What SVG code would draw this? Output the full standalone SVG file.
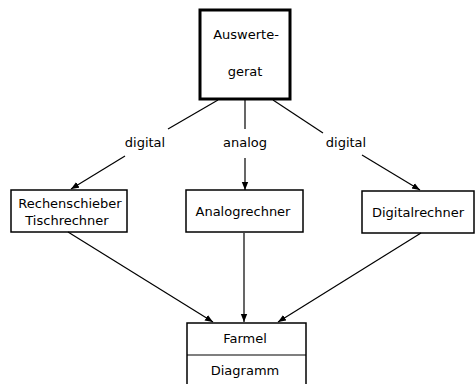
<svg xmlns="http://www.w3.org/2000/svg" width="476" height="384" viewBox="0 0 476 384">
<style>
.box{fill:#fff;stroke:#000;stroke-width:1.5}
.t{font-family:"DejaVu Sans",sans-serif;font-size:13px;fill:#000;text-anchor:middle}
.c{stroke:#000;stroke-width:1.2;fill:none}
</style>
<defs>
<marker id="ah" viewBox="0 0 10 10" refX="10" refY="5" markerWidth="8" markerHeight="8" markerUnits="userSpaceOnUse" orient="auto">
<path d="M0,1 L10,5 L0,9 Z" fill="#000"/>
</marker>
</defs>
<rect width="476" height="384" fill="#fff"/>
<g id="auswertegeraet">
<rect x="200" y="10" width="90" height="89" fill="#fff" stroke="#000" stroke-width="3"/>
<text class="t" x="246" y="39">Auswerte-</text>
<text class="t" x="245" y="76">gerat</text>
</g>
<g id="rechenschieber">
<rect class="box" x="11" y="190" width="116" height="42"/>
<text class="t" x="70" y="208">Rechenschieber</text>
<text class="t" x="67" y="225">Tischrechner</text>
</g>
<g id="analogrechner">
<rect class="box" x="186" y="190" width="117" height="42"/>
<text class="t" x="243" y="216">Analogrechner</text>
</g>
<g id="digitalrechner">
<rect class="box" x="362" y="191" width="112" height="42"/>
<text class="t" x="418" y="217">Digitalrechner</text>
</g>
<g id="formel">
<rect class="box" x="187" y="323" width="119" height="64"/>
<line x1="187" y1="355" x2="306" y2="355" stroke="#000" stroke-width="1.2"/>
<text class="t" x="245" y="343">Farmel</text>
<text class="t" x="245" y="375">Diagramm</text>
</g>
<g id="connectors">
<line class="c" x1="218" y1="100" x2="168" y2="129"/>
<line class="c" x1="125" y1="156" x2="71" y2="189" marker-end="url(#ah)"/>
<line class="c" x1="245" y1="100" x2="245" y2="129"/>
<line class="c" x1="245" y1="158" x2="245" y2="190" marker-end="url(#ah)"/>
<line class="c" x1="273" y1="100" x2="323" y2="133"/>
<line class="c" x1="362" y1="155" x2="420" y2="190" marker-end="url(#ah)"/>
<line class="c" x1="68" y1="232" x2="213" y2="322" marker-end="url(#ah)"/>
<line class="c" x1="244" y1="233" x2="244" y2="322" marker-end="url(#ah)"/>
<line class="c" x1="421" y1="233" x2="278" y2="322" marker-end="url(#ah)"/>
<text class="t" x="145" y="147">digital</text>
<text class="t" x="245" y="147">analog</text>
<text class="t" x="346" y="147">digital</text>
</g>
</svg>
